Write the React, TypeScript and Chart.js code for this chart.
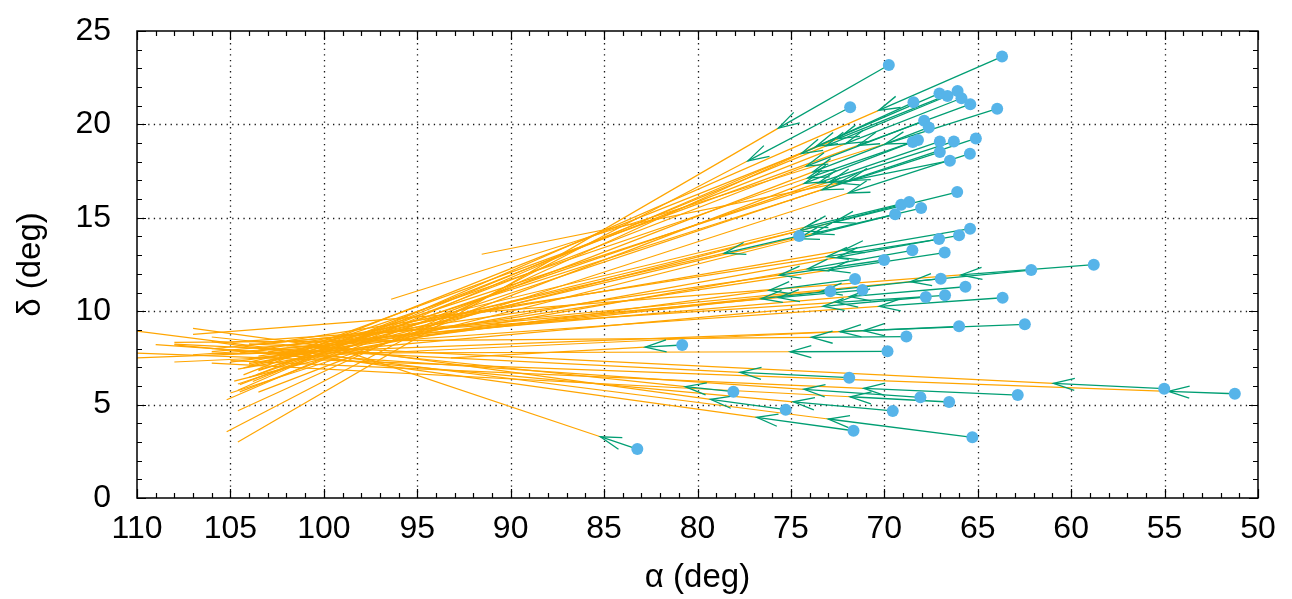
import React, { useEffect, useRef } from 'react';
import { Chart, registerables } from 'chart.js';

Chart.register(...registerables);

// Star positions (deg)
const starRa = [63.70, 69.76, 71.83, 68.44, 67.05, 66.62, 66.08, 65.87, 65.40, 63.96, 67.87, 67.62, 68.48, 68.20, 67.03, 66.28, 65.10, 67.03, 65.42, 66.49, 66.10, 69.10, 68.67, 68.03, 69.42, 74.56, 65.41, 66.00, 67.07, 68.50, 66.77, 70.01, 62.14, 58.79, 66.98, 71.57, 71.17, 72.89, 65.66, 67.78, 66.75, 63.67, 66.00, 62.48, 68.82, 69.83, 80.82, 71.88, 78.08, 68.07, 66.53, 62.86, 75.28, 69.55, 71.65, 65.29, 55.02, 51.24, 83.22];
const starDec = [23.63, 23.18, 20.92, 21.18, 21.66, 21.52, 21.79, 21.40, 21.08, 20.84, 20.20, 19.84, 19.06, 19.16, 19.09, 19.09, 19.25, 18.52, 18.43, 18.06, 16.38, 15.70, 15.85, 15.52, 15.19, 14.03, 14.42, 14.06, 13.86, 13.26, 13.14, 12.74, 12.20, 12.49, 11.74, 11.72, 11.13, 11.07, 11.31, 10.76, 10.85, 10.72, 9.19, 9.30, 8.64, 7.85, 8.19, 6.44, 5.69, 5.39, 5.14, 5.51, 4.73, 4.66, 3.60, 3.25, 5.85, 5.58, 2.62];
// Arrow tips (proper-motion arrows)
const tipRa = [70.30, 75.67, 77.30, 74.44, 73.65, 73.12, 72.48, 72.07, 71.40, 69.96, 74.17, 73.82, 74.28, 74.10, 73.53, 72.88, 71.90, 73.33, 71.92, 72.49, 72.70, 74.60, 74.17, 73.83, 74.62, 78.56, 72.21, 72.50, 73.07, 74.10, 72.97, 75.61, 68.60, 65.90, 73.38, 76.17, 75.67, 76.59, 71.86, 73.28, 72.55, 70.27, 72.37, 71.12, 73.90, 75.04, 82.80, 77.72, 80.66, 74.30, 71.83, 71.10, 79.30, 74.87, 76.83, 73.00, 60.95, 54.80, 85.20];
const tipDec = [20.75, 19.80, 18.05, 18.44, 18.82, 18.85, 19.24, 18.97, 18.88, 18.95, 17.77, 17.46, 16.84, 17.13, 16.87, 16.95, 16.99, 16.50, 16.33, 16.86, 14.76, 14.29, 14.52, 14.15, 13.88, 13.11, 13.26, 12.88, 12.92, 12.27, 12.20, 11.93, 11.58, 11.94, 11.06, 11.11, 10.73, 10.67, 10.78, 10.26, 10.47, 10.26, 8.90, 8.96, 8.60, 7.83, 8.08, 6.73, 5.96, 5.82, 5.42, 5.87, 5.28, 5.15, 4.32, 4.23, 6.14, 5.71, 3.28];
// Ends of the extrapolated paths
const endRa = [104.6, 104.6, 105.2, 104.6, 105.2, 103.8, 104.3, 103.6, 102.4, 96.4, 104.5, 104.5, 103.5, 103.0, 104.0, 102.0, 104.6, 103.5, 105.0, 91.55, 104.0, 103.5, 102.5, 104.3, 104.8, 104.0, 103.5, 104.0, 102.0, 104.6, 103.5, 102.0, 106.0, 107.0, 104.5, 105.0, 104.0, 103.0, 106.0, 104.0, 105.0, 107.0, 108.0, 110.0, 108.0, 106.0, 93.2, 108.0, 106.0, 109.0, 106.0, 105.0, 107.0, 108.0, 106.0, 110.0, 104.0, 110.0, 99.0];
const endDec = [5.77, 3.00, 3.55, 4.67, 5.26, 6.24, 6.59, 6.59, 7.54, 10.64, 6.07, 5.68, 5.67, 7.26, 6.46, 7.49, 6.10, 6.82, 5.62, 13.05, 7.10, 6.87, 7.68, 6.97, 6.26, 7.27, 7.92, 7.19, 8.41, 6.90, 7.60, 8.14, 7.99, 8.76, 7.77, 7.27, 8.20, 7.82, 7.84, 7.49, 8.34, 7.67, 7.28, 7.50, 8.33, 7.74, 7.50, 8.24, 8.62, 8.21, 7.22, 7.35, 9.08, 8.20, 8.37, 8.93, 8.25, 7.76, 7.90];

const xMajor = [110, 105, 100, 95, 90, 85, 80, 75, 70, 65, 60, 55, 50];
const yMajor = [0, 5, 10, 15, 20, 25];

const ORANGE = '#ffa500';
const GREEN = '#009e73';
const BLUE = '#56b4e9';
const FONT = "'Liberation Sans', Arial, sans-serif";
const FS = 32;

const gnuplotPlugin = {
  id: 'gnuplotFrame',
  beforeDatasetsDraw(chart: any) {
    const { ctx, chartArea: a, scales } = chart;
    const x = scales.x, y = scales.y;
    ctx.save();
    ctx.strokeStyle = 'rgba(0,0,0,0.9)';
    ctx.lineWidth = 1.3;
    ctx.setLineDash([1.3, 4.3]);
    for (const v of xMajor) {
      const px = Math.round(x.getPixelForValue(v)) + 0.5;
      if (px <= a.left + 1 || px >= a.right - 1) continue;
      ctx.beginPath(); ctx.moveTo(px, a.bottom); ctx.lineTo(px, a.top); ctx.stroke();
    }
    for (const v of yMajor) {
      const py = Math.round(y.getPixelForValue(v)) + 0.5;
      if (py <= a.top + 1 || py >= a.bottom - 1) continue;
      ctx.beginPath(); ctx.moveTo(a.left, py); ctx.lineTo(a.right, py); ctx.stroke();
    }
    ctx.restore();
  },
  beforeDatasetDraw(chart: any, args: any) {
    if (args.index !== 0) return;
    const { ctx, scales } = chart;
    const x = scales.x, y = scales.y;
    ctx.save();
    ctx.strokeStyle = GREEN;
    ctx.lineWidth = 1.3;
    const len = 22, ang = (16 * Math.PI) / 180;
    for (let i = 0; i < starRa.length; i++) {
      const x0 = x.getPixelForValue(starRa[i]);
      const y0 = y.getPixelForValue(starDec[i]);
      const x1 = x.getPixelForValue(tipRa[i]);
      const y1 = y.getPixelForValue(tipDec[i]);
      const th = Math.atan2(y0 - y1, x0 - x1);
      ctx.beginPath();
      ctx.moveTo(x1 + len * Math.cos(th + ang), y1 + len * Math.sin(th + ang));
      ctx.lineTo(x1, y1);
      ctx.lineTo(x1 + len * Math.cos(th - ang), y1 + len * Math.sin(th - ang));
      ctx.stroke();
    }
    ctx.restore();
  },
  afterDatasetsDraw(chart: any) {
    const { ctx, chartArea: a, scales } = chart;
    const x = scales.x, y = scales.y;
    ctx.save();
    ctx.strokeStyle = '#000';
    ctx.lineWidth = 1.5;
    ctx.setLineDash([]);
    ctx.strokeRect(a.left, a.top, a.right - a.left, a.bottom - a.top);
    ctx.lineWidth = 1.2;
    for (let v = 50; v <= 110; v += 1) {
      const px = Math.round(x.getPixelForValue(v)) + 0.5;
      const L = v % 5 === 0 ? 9 : 5;
      ctx.beginPath();
      ctx.moveTo(px, a.bottom); ctx.lineTo(px, a.bottom - L);
      ctx.moveTo(px, a.top); ctx.lineTo(px, a.top + L);
      ctx.stroke();
    }
    for (let v = 0; v <= 25; v += 1) {
      const py = Math.round(y.getPixelForValue(v)) + 0.5;
      const L = v % 5 === 0 ? 9 : 5;
      ctx.beginPath();
      ctx.moveTo(a.left, py); ctx.lineTo(a.left + L, py);
      ctx.moveTo(a.right, py); ctx.lineTo(a.right - L, py);
      ctx.stroke();
    }
    ctx.restore();
  },
};

export default function App() {
  const ref = useRef<HTMLCanvasElement>(null);
  useEffect(() => {
    document.body.style.margin = '0';
    const canvas = ref.current!;
    const pointsSet: any = {
      label: 'stars',
      data: starRa.map((r, i) => ({ x: r, y: starDec[i] })),
      showLine: false,
      pointRadius: 6,
      pointBackgroundColor: BLUE,
      pointBorderWidth: 0,
      order: 0,
    };
    const greenSets: any[] = starRa.map((r, i) => ({
      label: 'pm' + i,
      data: [{ x: r, y: starDec[i] }, { x: tipRa[i], y: tipDec[i] }],
      borderColor: GREEN,
      borderWidth: 1.3,
      pointRadius: 0,
      fill: false,
      order: 1,
    }));
    const orangeSets: any[] = starRa.map((_, i) => ({
      label: 'path' + i,
      data: [{ x: tipRa[i], y: tipDec[i] }, { x: endRa[i], y: endDec[i] }],
      borderColor: ORANGE,
      borderWidth: 1.2,
      pointRadius: 0,
      fill: false,
      order: 2,
    }));
    const chart = new Chart(canvas, {
      type: 'line',
      data: { datasets: [pointsSet, ...greenSets, ...orangeSets] },
      options: {
        responsive: false,
        animation: false,
        events: [],
        layout: { padding: { top: 31, right: 34, left: 0, bottom: 0 } },
        plugins: { legend: { display: false }, tooltip: { enabled: false } },
        scales: {
          x: {
            type: 'linear',
            reverse: true,
            min: 50,
            max: 110,
            afterFit: (s: any) => { s.height = 101; s.paddingLeft = 0; s.paddingRight = 0; s.paddingTop = 0; s.paddingBottom = 0; },
            afterBuildTicks: (s: any) => { s.ticks = xMajor.map((v) => ({ value: v })); },
            ticks: { font: { family: FONT, size: FS }, color: '#000', padding: 12, maxRotation: 0, autoSkip: false },
            grid: { display: false, drawTicks: false },
            border: { display: false },
            title: { display: true, text: 'α (deg)', font: { family: FONT, size: 33 }, color: '#000', padding: { top: 0, bottom: 1 } },
          },
          y: {
            type: 'linear',
            min: 0,
            max: 25,
            afterFit: (s: any) => { s.width = 137; s.paddingTop = 0; s.paddingBottom = 0; s.paddingLeft = 0; s.paddingRight = 0; },
            afterBuildTicks: (s: any) => { s.ticks = yMajor.map((v) => ({ value: v })); },
            ticks: { font: { family: FONT, size: FS }, color: '#000', padding: 26, autoSkip: false },
            grid: { display: false, drawTicks: false },
            border: { display: false },
            title: { display: true, text: 'δ (deg)', font: { family: FONT, size: 33 }, color: '#000', padding: { top: 11, bottom: 0 } },
          },
        },
      },
      plugins: [gnuplotPlugin],
    } as any);
    return () => chart.destroy();
  }, []);
  return <canvas ref={ref} width={1292} height={599} style={{ display: 'block' }} />;
}
